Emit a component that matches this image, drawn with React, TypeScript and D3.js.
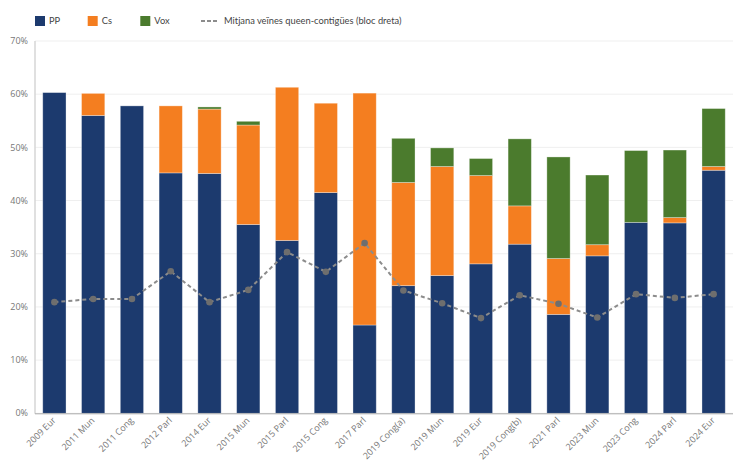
import React from "react";
import * as d3 from "d3";

const categories = [
  "2009 Eur", "2011 Mun", "2011 Cong", "2012 Parl", "2014 Eur", "2015 Mun",
  "2015 Parl", "2015 Cong", "2017 Parl", "2019 Cong(a)", "2019 Mun", "2019 Eur",
  "2019 Cong(b)", "2021 Parl", "2023 Mun", "2023 Cong", "2024 Parl", "2024 Eur",
];
const ppValues = [60.3, 56.0, 57.8, 45.2, 45.1, 35.5, 32.5, 41.5, 16.6, 24.0, 25.9, 28.1, 31.8, 18.6, 29.6, 35.9, 35.8, 45.7];
const csValues = [0, 4.15, 0, 12.6, 12.1, 18.7, 28.8, 16.8, 43.6, 19.4, 20.5, 16.6, 7.2, 10.5, 2.1, 0, 1.0, 0.7];
const voxValues = [0, 0, 0, 0, 0.4, 0.7, 0, 0, 0, 8.3, 3.5, 3.2, 12.6, 19.1, 13.1, 13.5, 12.7, 10.9];
const neighbourMean = [20.9, 21.5, 21.5, 26.7, 20.9, 23.2, 30.3, 26.6, 32.0, 23.1, 20.7, 17.9, 22.2, 20.6, 18.0, 22.4, 21.7, 22.4];
const yTicks = [0, 10, 20, 30, 40, 50, 60, 70];

const seriesNames = ["PP", "Cs", "Vox"];
const seriesColors = ["#1c3a6e", "#f47e20", "#4b7b2d"];
const lineLabel = "Mitjana veïnes queen-contigües (bloc dreta)";

const W = 739;
const H = 468;
const FONT = "'Segoe UI', 'Open Sans', sans-serif";
const LEGEND_FONT = "Lato, 'Open Sans', sans-serif";

export default function App() {
  const x = d3.scaleBand<string>().domain(categories).range([35, 733]).paddingInner(0.4).paddingOuter(0.2);
  const y = d3.scaleLinear().domain([0, 70]).range([413.3, 41]);

  const rows = categories.map((c, i) => ({ cat: c, PP: ppValues[i], Cs: csValues[i], Vox: voxValues[i] }));
  const stacked = d3.stack<any>().keys(seriesNames)(rows);

  const line = d3
    .line<number>()
    .x((_, i) => (x(categories[i]) as number) + x.bandwidth() / 2)
    .y((d) => y(d));

  const legendX = [35, 87.7, 140.3];

  return (
    <svg width={W} height={H} style={{ position: "absolute", left: 0, top: 0, background: "#fff" }} fontFamily={FONT}>
      {/* gridlines */}
      {yTicks.map((t) => (
        <line key={"g" + t} x1={35} x2={733} y1={y(t)} y2={y(t)} stroke="#efefef" strokeWidth={1} />
      ))}
      {/* y ticks labels */}
      {yTicks.map((t) => (
        <text key={"yt" + t} x={28} y={y(t)} dy="0.35em" textAnchor="end" fontSize={9} fill="#777">
          {t + "%"}
        </text>
      ))}
      {/* bars */}
      {stacked.map((s, si) => (
        <g key={s.key} fill={seriesColors[si]}>
          {s.map((d, i) =>
            d[1] - d[0] > 0 ? (
              <rect
                key={i}
                x={x(categories[i])}
                y={y(d[1])}
                width={x.bandwidth()}
                height={y(d[0]) - y(d[1])}
                stroke="rgba(255,255,255,0.4)"
                strokeWidth={0.8}
              />
            ) : null
          )}
        </g>
      ))}
      {/* axes */}
      <line x1={35} x2={35} y1={41} y2={413.8} stroke="#d6d6d6" strokeWidth={1.5} />
      <line x1={35} x2={733} y1={413.8} y2={413.8} stroke="#aaaaaa" strokeWidth={1} />
      {/* line series */}
      <path d={line(neighbourMean) || ""} fill="none" stroke="#8c8c8c" strokeWidth={2} strokeDasharray="4,3" />
      {neighbourMean.map((v, i) => (
        <circle key={"p" + i} cx={(x(categories[i]) as number) + x.bandwidth() / 2} cy={y(v)} r={3.3} fill="#6e6e6e" />
      ))}
      {/* x labels */}
      {categories.map((c) => {
        const cx = (x(c) as number) + x.bandwidth() / 2 + 2;
        return (
          <text
            key={"xl" + c}
            transform={`translate(${cx},${421}) rotate(-45)`}
            textAnchor="end"
            fontSize={9}
            fill="#777"
          >
            {c}
          </text>
        );
      })}
      {/* legend */}
      <g fontFamily={LEGEND_FONT}>
        {seriesNames.map((n, i) => (
          <g key={"lg" + n}>
            <rect x={legendX[i]} y={16} width={10} height={10} fill={seriesColors[i]} />
            <text x={legendX[i] + 14} y={21} dy="0.35em" fontSize={9.3} fill="#444">
              {n}
            </text>
          </g>
        ))}
        <line x1={201} x2={217} y1={21} y2={21} stroke="#8c8c8c" strokeWidth={2} strokeDasharray="4,2" />
        <text x={224} y={21} dy="0.35em" fontSize={9.3} fill="#444">
          {lineLabel}
        </text>
      </g>
    </svg>
  );
}
